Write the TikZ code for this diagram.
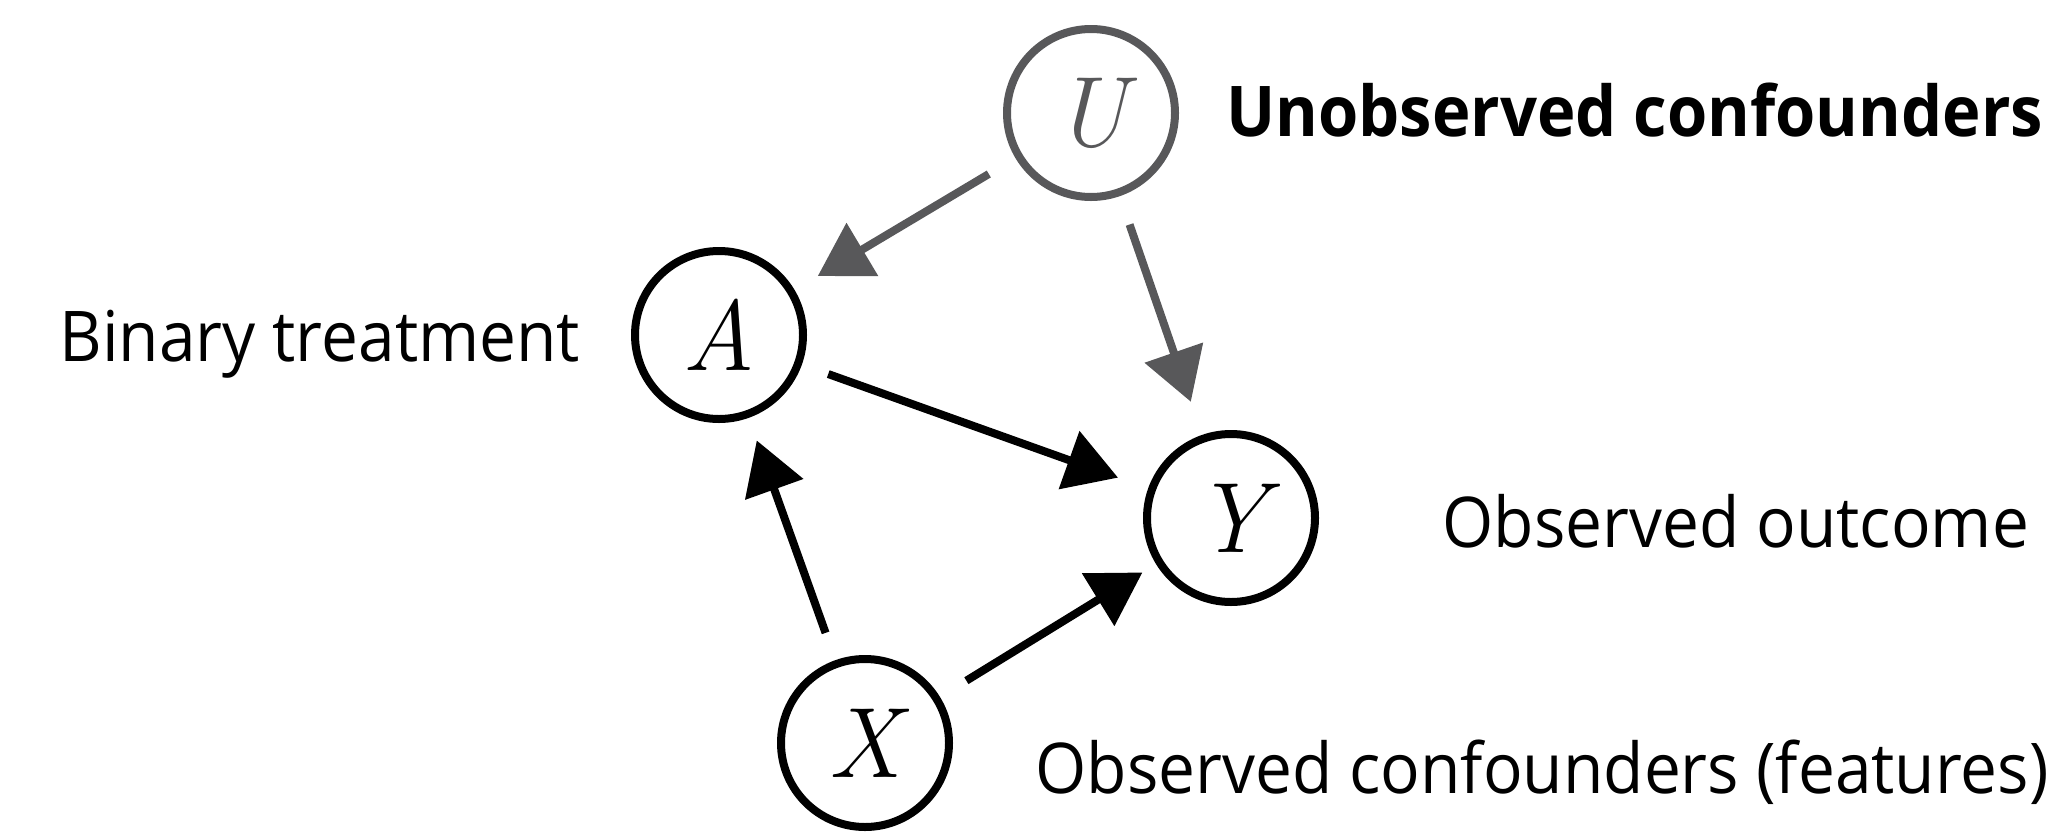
\documentclass[tikz,border=0pt]{standalone}
\usepackage{fontspec}
\setmainfont{Open Sans}[FakeStretch=0.94,BoldFeatures={FakeStretch=0.93}]
\newfontfamily\varfont{Latin Modern Roman}
\usetikzlibrary{arrows.meta}
\definecolor{ugray}{RGB}{88,88,90}
\begin{document}
\begin{tikzpicture}[x=0.5pt,y=-0.5pt,
  var/.style={circle,draw,line width=4pt,minimum size=84pt,inner sep=0pt,font=\varfont\itshape\fontsize{50}{50}\selectfont},
  lbl/.style={anchor=base west,inner sep=0pt,font=\fontsize{35}{40}\selectfont},
  arr/.style={line width=4pt,-{Triangle[length=26pt,width=30pt]}}]
\useasboundingbox (0,0) rectangle (2046,831);
\node[var,draw=ugray,text=ugray] (U) at (1091,113) {U};
\node[var] (A) at (719,335) {A};
\node[var] (Y) at (1231,518) {Y};
\node[var] (X) at (865,743) {X};
\node[lbl] (tA) at (59,361) {Binary treatment};
\node[lbl,font=\fontsize{35}{40}\selectfont\bfseries] (tU) at (1226,136) {Unobserved confounders};
\node[lbl] (tY) at (1442,547) {Observed outcome};
\node[lbl] (tX) at (1035,793) {Observed confounders (features)};
\draw[arr,ugray,shorten <=15.5pt,shorten >=13.5pt] (U) -- (A);
\draw[arr,ugray,shorten <=15pt,shorten >=17.5pt] (U) -- (Y);
\draw[arr,shorten <=14pt,shorten >=16pt] (A) -- (Y);
\draw[arr,shorten <=14.5pt,shorten >=12pt] (X) -- (A);
\draw[arr,shorten <=15.5pt,shorten >=8pt] (X) -- (Y);
\end{tikzpicture}
\end{document}
